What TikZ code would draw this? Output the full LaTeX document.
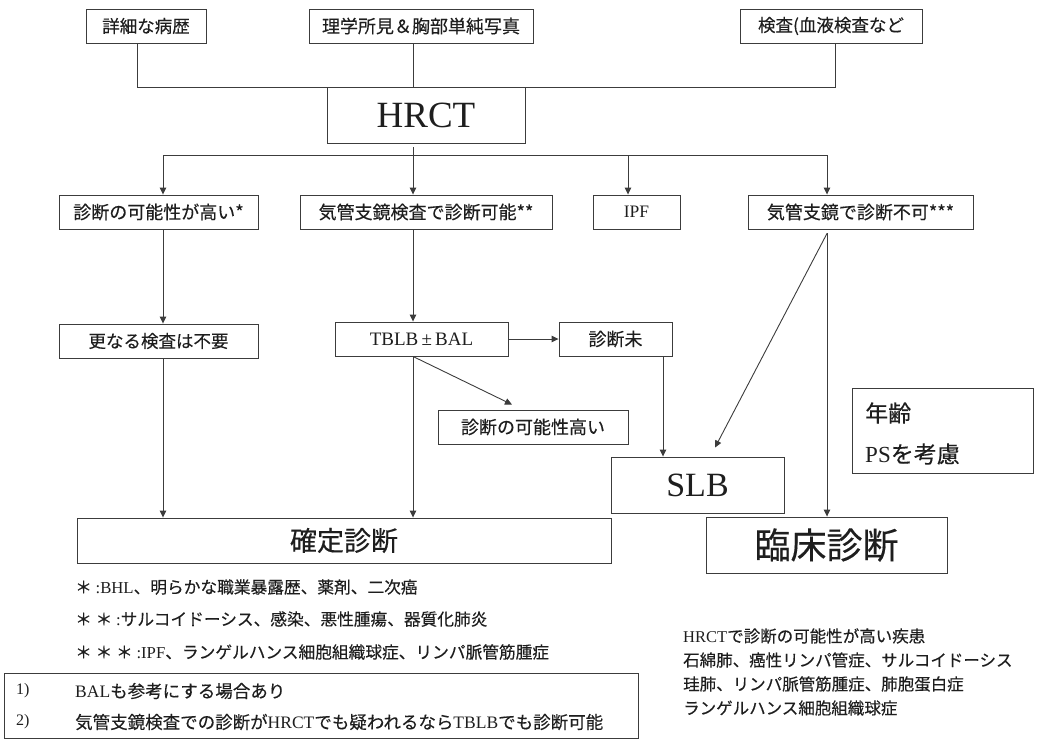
\documentclass[tikz,border=0pt]{standalone}
\usepackage{fontspec}
\setmainfont{Liberation Serif}
\newfontfamily\jp[FakeBold=0.3]{Noto Sans CJK JP}
\usetikzlibrary{arrows.meta,calc}
\definecolor{lc}{HTML}{3C3C3C}
\definecolor{tc}{HTML}{1E1E1E}
\tikzset{
  box/.style={draw=lc, line width=0.9pt, inner sep=0pt, text=tc, align=center},
  conn/.style={draw=lc, line width=0.9pt},
  arr/.style={conn, -{Triangle[length=7pt,width=6.5pt]}},
  txt/.style={inner sep=0pt, text=tc, anchor=west},
  fj/.style={font=\jp\fontsize{#1}{#1}\selectfont},
  fr/.style={font=\rmfamily\fontsize{#1}{#1}\selectfont}
}
\begin{document}
\begin{tikzpicture}[x=1pt,y=-1pt]
\useasboundingbox (0,0) rectangle (1038,740);
% top row
\node[box,fj=17.5,minimum width=120pt,minimum height=34pt] (n1) at (146,26) {詳細な病歴};
\node[box,fj=18,minimum width=224pt,minimum height=34pt] (n2) at (421,26) {理学所見＆胸部単純写真};
\node[box,fj=17.5,minimum width=182pt,minimum height=34pt] (n3) at (831,26) {検査(血液検査など};
\node[box,fr=37,minimum width=198pt,minimum height=56pt] (hrct) at (426,115) {HRCT};
% second row
\node[box,fj=18,minimum width=199pt,minimum height=34pt] (r1) at (158.5,212) {診断の可能性が高い*};
\node[box,fj=18,minimum width=252pt,minimum height=34pt] (r2) at (426,212) {気管支鏡検査で診断可能**};
\node[box,fr=17.5,minimum width=87pt,minimum height=34pt] (r3) at (636.5,212) {IPF};
\node[box,fj=18,minimum width=225pt,minimum height=34pt] (r4) at (860.5,212) {気管支鏡で診断不可***};
% third row
\node[box,fj=17.5,minimum width=199pt,minimum height=34pt] (m1) at (158.5,341) {更なる検査は不要};
\node[box,fr=19,minimum width=173pt,minimum height=34pt] (tb) at (421.5,339) {TBLB\,±\,BAL};
\node[box,fj=18,minimum width=113pt,minimum height=34pt] (mi) at (615.5,339) {診断未};
\node[box,fj=18,minimum width=190pt,minimum height=34pt] (hk) at (533,427) {診断の可能性高い};
% results
\node[box,fr=34,minimum width=173pt,minimum height=56pt] (slb) at (697.5,485) {SLB};
\node[box,fj=27,minimum width=534pt,minimum height=45pt] (kk) at (344,540.5) {確定診断};
\node[box,fj=36,minimum width=241pt,minimum height=56pt] (rs) at (826.5,545) {臨床診断};
\node[box,minimum width=181pt,minimum height=85pt] (age) at (942.5,430.5) {};
\node[txt,fj=23] (age1) at (865,413) {年齢};
\node[txt,fj=23] (age2) at (865,454) {{\rmfamily PS}を考慮};
% footnotes
\node[txt,fj=16.7] (f1) at (75,587) {＊ {\rmfamily :BHL}、明らかな職業暴露歴、薬剤、二次癌};
\node[txt,fj=16.7] (f2) at (75,619) {＊ ＊ {\rmfamily :}サルコイドーシス、感染、悪性腫瘍、器質化肺炎};
\node[txt,fj=16.7] (f3) at (75,652) {＊ ＊ ＊ {\rmfamily :IPF}、ランゲルハンス細胞組織球症、リンパ脈管筋腫症};
\node[box,minimum width=634pt,minimum height=65pt] (nb) at (321,705.5) {};
\node[txt,fr=16] (k1) at (16,691) {1)};
\node[txt,fj=17.5] (k1t) at (75,691) {{\rmfamily BAL}も参考にする場合あり};
\node[txt,fr=16] (k2) at (16,722) {2)};
\node[txt,fj=17.5] (k2t) at (75,722) {気管支鏡検査での診断が{\rmfamily HRCT}でも疑われるなら{\rmfamily TBLB}でも診断可能};
\node[txt,fj=16.5] (h1) at (683,636) {{\rmfamily HRCT}で診断の可能性が高い疾患};
\node[txt,fj=16.5] (h2) at (683,660) {石綿肺、癌性リンパ管症、サルコイドーシス};
\node[txt,fj=16.5] (h3) at (683,684) {珪肺、リンパ脈管筋腫症、肺胞蛋白症};
\node[txt,fj=16.5] (h4) at (683,708) {ランゲルハンス細胞組織球症};
% connectors
\coordinate (t1) at (137,87);
\coordinate (t2) at (413,87);
\coordinate (t3) at (835,87);
\draw[conn] (t1 |- n1.south) -- (t1) -- (t3) -- (t3 |- n3.south);
\draw[conn] (t2 |- n2.south) -- (t2);
\coordinate (b1) at (163,155);
\coordinate (b2) at (413,155);
\coordinate (b3) at (628,155);
\coordinate (b4) at (827,155);
\draw[arr] ($(b2 |- hrct.south)+(0,4)$) -- (b2 |- r2.north);
\draw[conn] (b1) -- (b4);
\draw[arr] (b1) -- (b1 |- r1.north);
\draw[arr] (b3) -- (b3 |- r3.north);
\draw[arr] (b4) -- (b4 |- r4.north);
\draw[arr] (b1 |- r1.south) -- (b1 |- m1.north);
\draw[arr] (b1 |- m1.south) -- (b1 |- kk.north);
\draw[arr] (b2 |- r2.south) -- (b2 |- tb.north);
\draw[arr] (b2 |- tb.south) -- (b2 |- kk.north);
\draw[arr] (b2 |- tb.south) -- ($(hk.north)+(-21,-5)$);
\draw[arr] (tb.east) -- (mi.west);
\coordinate (c5) at (663,0);
\draw[arr] (c5 |- mi.south) -- (c5 |- slb.north);
\coordinate (v) at ($(b4 |- r4.south)+(0,4)$);
\draw[arr] (v) -- (b4 |- rs.north);
\draw[arr] (v) -- ($(slb.north)+(17.5,-9)$);
\end{tikzpicture}
\end{document}
